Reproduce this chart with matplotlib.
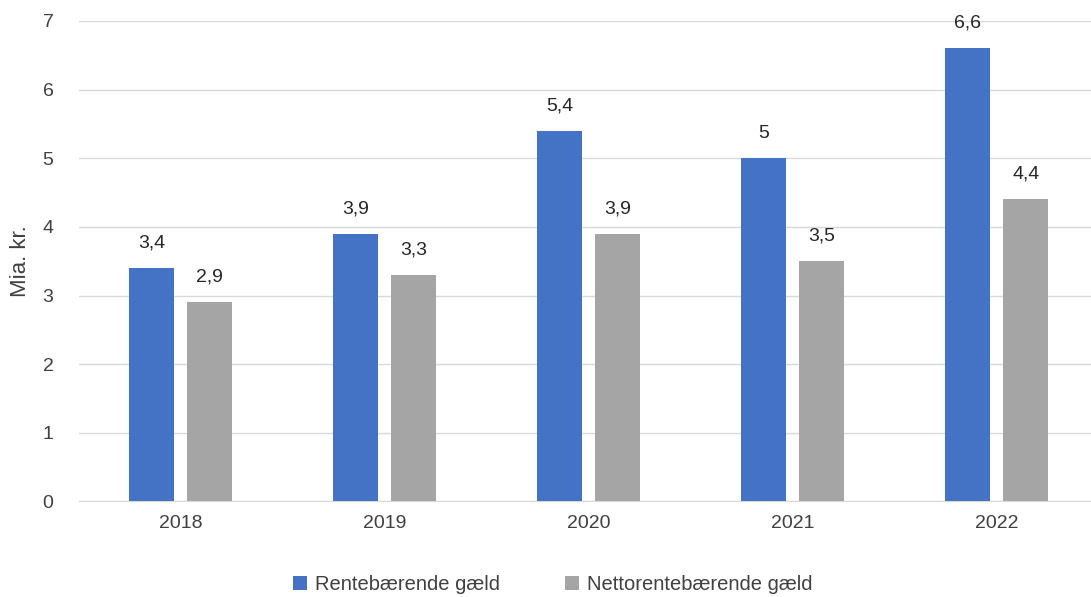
import matplotlib.pyplot as plt
import numpy as np

# data
years = ['2018', '2019', '2020', '2021', '2022']
rentebaerende = [3.4, 3.9, 5.4, 5.0, 6.6]
nettorentebaerende = [2.9, 3.3, 3.9, 3.5, 4.4]
yticks = [0, 1, 2, 3, 4, 5, 6, 7]


def fmt(v):
    # danish decimal comma, drop trailing ,0
    s = f'{v:.1f}'.replace('.', ',')
    return s[:-2] if s.endswith(',0') else s


plt.rcParams['font.family'] = ['Liberation Sans', 'DejaVu Sans']

fig = plt.figure(figsize=(10.91, 5.97), dpi=100)
ax = fig.add_axes([0.072, 0.16, 0.935, 0.805])

x = np.arange(len(years))
w = 0.22
off = 0.143

b1 = ax.bar(x - off, rentebaerende, w, color='#4472C4', label='Rentebærende gæld', zorder=3)
b2 = ax.bar(x + off, nettorentebaerende, w, color='#A5A5A5', label='Nettorentebærende gæld', zorder=3)

for bars, vals in ((b1, rentebaerende), (b2, nettorentebaerende)):
    for rect, v in zip(bars, vals):
        ax.annotate(fmt(v), (rect.get_x() + rect.get_width() / 2, v),
                    xytext=(0, 12), textcoords='offset points',
                    ha='center', va='bottom', fontsize=14, color='#262626')

ax.set_xlim(-0.5, len(years) - 0.5)
ax.set_ylim(0, 7)
ax.set_yticks(yticks)
ax.set_xticks(x)
ax.set_xticklabels(years)
ax.tick_params(axis='both', length=0, labelsize=14, labelcolor='#404040', pad=10)
ax.tick_params(axis='y', pad=18)
ax.set_ylabel('Mia. kr.', fontsize=16, color='#404040', labelpad=8)

ax.grid(axis='y', color='#d9d9d9', linewidth=1, zorder=0)
for s in ['top', 'right', 'left']:
    ax.spines[s].set_visible(False)
ax.spines['bottom'].set_color('#d9d9d9')

ax.legend(loc='upper center', bbox_to_anchor=(0.465, -0.115), ncol=2, frameon=False,
          fontsize=14.5, handlelength=0.7, handleheight=0.7, columnspacing=3.2,
          handletextpad=0.4, labelcolor='#404040')

fig.savefig('out.png', dpi=100)
